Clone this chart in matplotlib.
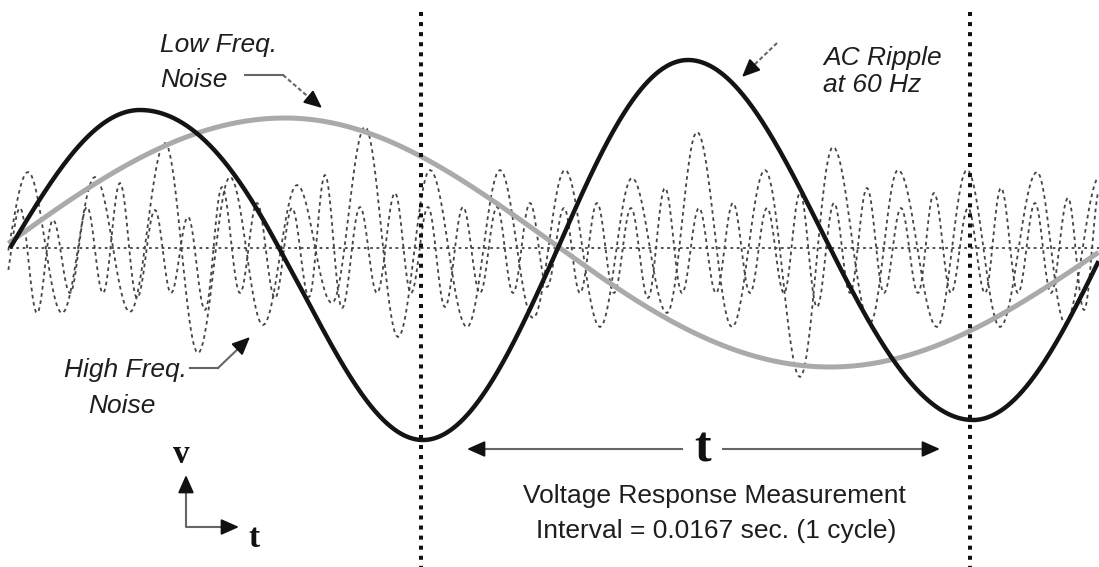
import numpy as np
import matplotlib
matplotlib.use('Agg')
import matplotlib.pyplot as plt
from matplotlib import font_manager

# waveform shapes: t = horizontal position (px), v = height above the zero line (px)
ripple_zero_t = [10, 279, 558, 830, 1105]
ripple_ext_t = [140, 423, 688, 973]
ripple_ext_v = [138, -192, 188, -172]

low_zero_t = [2, 560, 1105]
low_ext_t = [285, 830]
low_ext_v = [130, -119]

# high freq noise, two dotted traces (peaks / troughs)
noise_a_peak_t = [28, 95, 165, 230, 297, 365, 430, 500, 565, 632, 697, 765, 833, 898, 967, 1037, 1100]
noise_a_peak_v = [76, 71, 105, 71, 63, 121, 78, 78, 78, 70, 116, 78, 101, 78, 78, 76, 72]
noise_a_trough_t = [-6, 62, 130, 198, 263, 332, 398, 467, 533, 600, 667, 732, 800, 870, 937, 1000, 1065]
noise_a_trough_v = [-50, -65, -64, -105, -77, -55, -89, -79, -70, -79, -65, -79, -129, -75, -79, -79, -75]

noise_b_peak_t = [20, 53, 87, 120, 155, 188, 222, 257, 292, 325, 360, 395, 428, 463, 497, 530, 564,
                  597, 631, 665, 699, 733, 767, 800, 834, 867, 901, 934, 968, 1001, 1035, 1068, 1100]
noise_b_peak_v = [40, 28, 41, 65, 38, 31, 61, 45, 40, 73, 41, 55, 41, 41, 41, 45, 40,
                  45, 40, 60, 40, 45, 40, 55, 45, 60, 40, 55, 40, 60, 45, 50, 60]
noise_b_trough_t = [3, 37, 70, 103, 137, 171, 205, 240, 275, 309, 342, 377, 411, 445, 480, 513, 547,
                    580, 614, 648, 682, 716, 750, 784, 817, 850, 884, 918, 951, 985, 1018, 1051, 1084]
noise_b_trough_v = [-40, -65, -45, -45, -50, -45, -62, -45, -50, -49, -60, -45, -45, -59, -45, -45, -39,
                    -45, -45, -50, -45, -45, -45, -45, -59, -45, -45, -45, -45, -45, -45, -45, -62]

BASE = 248      # zero line (px from top)
X0 = 8          # traces start here
W, H = 1099, 567


def wave(zeros, ext_t, ext_v, n=1200):
    # phase runs through the zero / extremum knots, amplitude eases between extrema
    knots_t = [zeros[0]]
    for i in range(len(ext_t)):
        knots_t += [ext_t[i], zeros[i + 1]]
    knots_p = np.arange(len(knots_t)) * np.pi / 2
    t = np.linspace(knots_t[0], knots_t[-1], n)
    phase = np.interp(t, knots_t, knots_p)
    amp = np.full_like(t, abs(ext_v[0]))
    for t0, t1, a0, a1 in zip(ext_t[:-1], ext_t[1:], ext_v[:-1], ext_v[1:]):
        m = (t >= t0) & (t <= t1)
        s = (t[m] - t0) / (t1 - t0)
        amp[m] = abs(a0) + (abs(a1) - abs(a0)) * (1 - np.cos(np.pi * s)) / 2
    amp[t > ext_t[-1]] = abs(ext_v[-1])
    sign = 1 if ext_v[0] > 0 else -1
    return t, sign * amp * np.sin(phase)


def smooth(pt, pv, tt, tv, n=20):
    # half cosine between consecutive extrema
    pts = sorted(zip(list(pt) + list(tt), list(pv) + list(tv)))
    ts, vs = [], []
    s = np.linspace(0, 1, n)
    for (t0, v0), (t1, v1) in zip(pts[:-1], pts[1:]):
        ts += list(t0 + (t1 - t0) * s)
        vs += list(v0 + (v1 - v0) * (1 - np.cos(np.pi * s)) / 2)
    return np.array(ts), np.array(vs)


def clip(t, v):
    m = (t >= X0) & (t <= W)
    return t[m], BASE - v[m]


names = {f.name for f in font_manager.fontManager.ttflist}
if 'Liberation Sans Narrow' in names:
    sans, fs = 'Liberation Sans Narrow', 22.5
else:
    sans, fs = 'Liberation Sans', 19
serif = 'Liberation Serif' if 'Liberation Serif' in names else 'DejaVu Serif'

fig = plt.figure(figsize=(W / 100, H / 100), dpi=100)
ax = fig.add_axes([0, 0, 1, 1])
ax.set_xlim(0, W)
ax.set_ylim(H, 0)
ax.axis('off')

# zero line
ax.plot([10, W], [BASE, BASE], color='#444444', lw=1.3, ls=(0, (1.5, 2)), zorder=1)

# noise
for pt, pv, tt, tv in [(noise_a_peak_t, noise_a_peak_v, noise_a_trough_t, noise_a_trough_v),
                       (noise_b_peak_t, noise_b_peak_v, noise_b_trough_t, noise_b_trough_v)]:
    t, y = clip(*smooth(pt, pv, tt, tv))
    ax.plot(t, y, color='#454545', lw=1.3, ls=(0, (2, 2)), zorder=2)

# low freq noise
t, y = clip(*wave(low_zero_t, low_ext_t, low_ext_v))
ax.plot(t, y, color='#aaaaaa', lw=3.6, solid_capstyle='butt', zorder=3)

# 60 Hz ripple
t, y = clip(*wave(ripple_zero_t, ripple_ext_t, ripple_ext_v))
ax.plot(t, y, color='#141414', lw=3.2, solid_capstyle='butt', zorder=4)

# measurement interval markers
for x in [421, 970]:
    ax.plot([x, x], [12, H], color='#111111', lw=2.9, ls=(0, (1, 1.5)),
            dash_capstyle='butt', zorder=5)

grey = '#666666'


def head(tip, frm):
    ax.annotate('', xy=tip, xytext=frm,
                arrowprops=dict(arrowstyle='-|>,head_length=0.9,head_width=0.4',
                                color='#111111', lw=1.4, mutation_scale=12,
                                shrinkA=0, shrinkB=0), zorder=6)


# leaders
ax.plot([245, 283], [75, 75], color=grey, lw=1.5, zorder=6)
ax.plot([283, 312], [75, 100], color=grey, lw=1.5, ls=(0, (2, 1.2)), zorder=6)
head((322, 108), (310, 98))

ax.plot([777, 752], [43, 67], color=grey, lw=1.5, ls=(0, (2, 1.2)), zorder=6)
head((742, 77), (753.5, 66))

ax.plot([190, 218], [368, 368], color=grey, lw=1.5, zorder=6)
ax.plot([218, 240], [368, 347], color=grey, lw=1.5, zorder=6)
head((250, 337), (238.5, 348))

ax.plot([475, 682], [449, 449], color=grey, lw=1.5, zorder=6)
ax.plot([723, 932], [449, 449], color=grey, lw=1.5, zorder=6)
head((467, 449), (483, 449))
head((940, 449), (924, 449))

ax.plot([186, 186, 230], [485, 527, 527], color=grey, lw=1.5, zorder=6)
head((186, 475), (186, 491))
head((239, 527), (223, 527))

# text
tc = '#1e1e1e'
kw = dict(family=[sans, 'DejaVu Sans'], fontsize=fs, color=tc, va='baseline')
ax.text(160, 52, 'Low Freq.', style='italic', **kw)
ax.text(160, 87, 'Noise', style='italic', **kw)
ax.text(823, 65, 'AC Ripple', style='italic', **kw)
ax.text(823, 92, 'at 60 Hz', style='italic', **kw)
ax.text(125, 377, 'High Freq.', style='italic', ha='center', **kw)
ax.text(122, 413, 'Noise', style='italic', ha='center', **kw)
ax.text(714, 503, 'Voltage Response Measurement', ha='center', **kw)
ax.text(716, 538, 'Interval = 0.0167 sec. (1 cycle)', ha='center', **kw)

skw = dict(family=[serif, 'DejaVu Serif'], fontweight='bold', color='#111111', va='baseline', ha='center')
ax.text(703, 462, 't', fontsize=36, **skw)
ax.text(181, 463, 'v', fontsize=24, **skw)
ax.text(254, 547, 't', fontsize=24, **skw)

fig.savefig('out.png', dpi=100)
